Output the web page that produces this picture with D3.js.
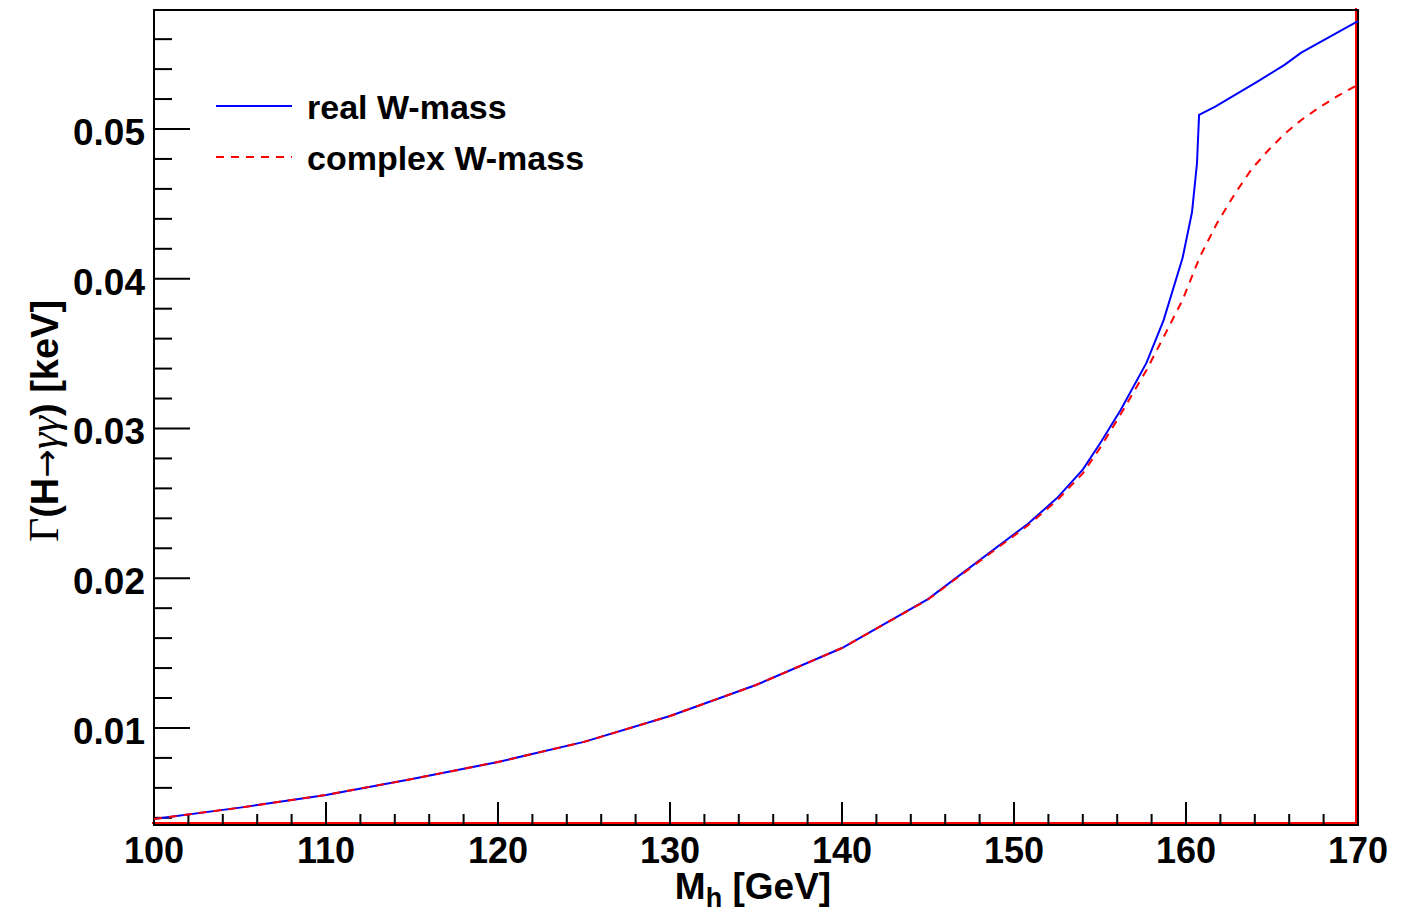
<!DOCTYPE html>
<html><head><meta charset="utf-8">
<script src="https://cdn.jsdelivr.net/npm/d3@7"></script>
<style>body{margin:0;background:#fff}svg{display:block}</style>
</head><body>
<svg id="c" width="1412" height="912"></svg>
<script>
const realM = [100,105,110,115,120,125,130,135,140,145,150.8,152.5,154,155,156.2,157.7,158.7,159.8,160.35,160.64,160.76,161.7,164.2,165.75,166.7,170];
const realG = [0.00392,0.00468,0.00553,0.00659,0.00773,0.00907,0.01080,0.01287,0.01534,0.01861,0.02362,0.02535,0.02725,0.02900,0.03124,0.03438,0.03724,0.04138,0.04445,0.04773,0.05094,0.0515,0.0532,0.0543,0.0551,0.0572];
const cplxM = [100,105,110,115,120,125,130,135,140,145,150.8,152.5,154,155,156.2,157.7,158.7,159.8,160.8,161.8,162.8,163.8,164.8,165.75,166.7,167.7,168.8,169.9];
const cplxG = [0.00392,0.00468,0.00553,0.00659,0.00773,0.00907,0.01080,0.01287,0.01534,0.01858,0.02352,0.02520,0.02700,0.02870,0.03095,0.03389,0.03611,0.03858,0.04145,0.04370,0.04560,0.04730,0.04860,0.04970,0.05060,0.05140,0.05220,0.05290];
const xTicks = [100,110,120,130,140,150,160,170];
const yTicks = [0.01,0.02,0.03,0.04,0.05];
const yTickLabels = ["0.01","0.02","0.03","0.04","0.05"];
const seriesNames = ["real W-mass","complex W-mass"];
const xDomain = [100,170];
const yDomain = [0.00352,0.057947];

const svg = d3.select("#c");
const L=154,R=1358,T=10,B=825;
const x = d3.scaleLinear().domain(xDomain).range([L,R]);
const y = d3.scaleLinear().domain(yDomain).range([B,T]);
const font = "'Liberation Sans', Arial, sans-serif";
const serif = "'Liberation Serif', 'Times New Roman', serif";

// red baseline/right edge artefact
const redEdge = [[xDomain[0],yDomain[0]],[xDomain[1],yDomain[0]],[xDomain[1],yDomain[1]]];
svg.append("path").attr("d", d3.line().x(d=>x(d[0])).y(d=>y(d[1]))(redEdge))
  .attr("transform","translate(-2,-2)")
  .attr("fill","none").attr("stroke","#ff0000").attr("stroke-width",2);

// frame
svg.append("rect").attr("x",L).attr("y",T).attr("width",R-L).attr("height",B-T)
  .attr("fill","none").attr("stroke","#000").attr("stroke-width",2);

// x ticks
const xMinor = d3.range(xDomain[0], xDomain[1]+0.001, 2);
svg.append("g").selectAll("line").data(xMinor).join("line")
  .attr("x1",d=>x(d)).attr("x2",d=>x(d)).attr("y1",B)
  .attr("y2",d=>B-(xTicks.includes(d)?23:11))
  .attr("stroke","#000").attr("stroke-width",2);
svg.append("g").selectAll("text").data(xTicks).join("text")
  .attr("x",d=>x(d)).attr("y",863).attr("text-anchor","middle")
  .attr("font-family",font).attr("font-weight","bold").attr("font-size",36)
  .text(d=>d);

// y ticks
const yMinor = d3.range(4,58,2).map(v=>v/1000);
svg.append("g").selectAll("line").data(yMinor).join("line")
  .attr("x1",L).attr("x2",d=>L+(Math.abs(Math.round(d*1000)%10)===0?36:18))
  .attr("y1",d=>y(d)).attr("y2",d=>y(d))
  .attr("stroke","#000").attr("stroke-width",2);
svg.append("g").selectAll("text").data(yTicks).join("text")
  .attr("x",145).attr("y",d=>y(d)+16).attr("text-anchor","end")
  .attr("font-family",font).attr("font-weight","bold").attr("font-size",37)
  .text((d,i)=>yTickLabels[i]);

// axis titles
const xt = svg.append("text").attr("x",753).attr("y",899).attr("text-anchor","middle")
  .attr("font-family",font).attr("font-weight","bold").attr("font-size",37);
xt.append("tspan").text("M");
xt.append("tspan").attr("font-size",27).attr("dy",8).text("h");
xt.append("tspan").attr("dy",-8).text(" [GeV]");

const yt = svg.append("text").attr("transform","translate(58,421) rotate(-90)").attr("text-anchor","middle")
  .attr("font-family",font).attr("font-weight","bold").attr("font-size",38);
yt.append("tspan").attr("font-family",serif).attr("font-weight","normal").attr("font-size",42).text("Γ");
yt.append("tspan").text("(H");
yt.append("tspan").attr("font-family","'DejaVu Sans', sans-serif").attr("font-weight","normal").attr("font-size",34).text("→");
yt.append("tspan").attr("font-family",serif).attr("font-weight","normal").attr("font-style","italic").attr("font-size",42).text("γγ");
yt.append("tspan").text(") [keV]");

// curves
const line = d3.line().x(d=>x(d[0])).y(d=>y(d[1]));
svg.append("clipPath").attr("id","pc").append("rect").attr("x",L).attr("y",T).attr("width",R-L).attr("height",B-T);
svg.append("path").attr("d", line(realM.map((m,i)=>[m,realG[i]])))
  .attr("clip-path","url(#pc)")
  .attr("fill","none").attr("stroke","#0000ff").attr("stroke-width",2);
svg.append("path").attr("d", line(cplxM.map((m,i)=>[m,cplxG[i]])))
  .attr("clip-path","url(#pc)")
  .attr("fill","none").attr("stroke","#ff0000").attr("stroke-width",2).attr("stroke-dasharray","8,7");

// legend
const leg = [{c:"#0000ff",d:null,y:106},{c:"#ff0000",d:"8,7",y:157}];
leg.forEach((l,i)=>{
  svg.append("line").attr("x1",216).attr("x2",292).attr("y1",l.y).attr("y2",l.y)
    .attr("stroke",l.c).attr("stroke-width",2).attr("stroke-dasharray",l.d);
  svg.append("text").attr("x",307).attr("y",l.y+13)
    .attr("font-family",font).attr("font-weight","bold").attr("font-size",34)
    .text(seriesNames[i]);
});
</script>
</body></html>
